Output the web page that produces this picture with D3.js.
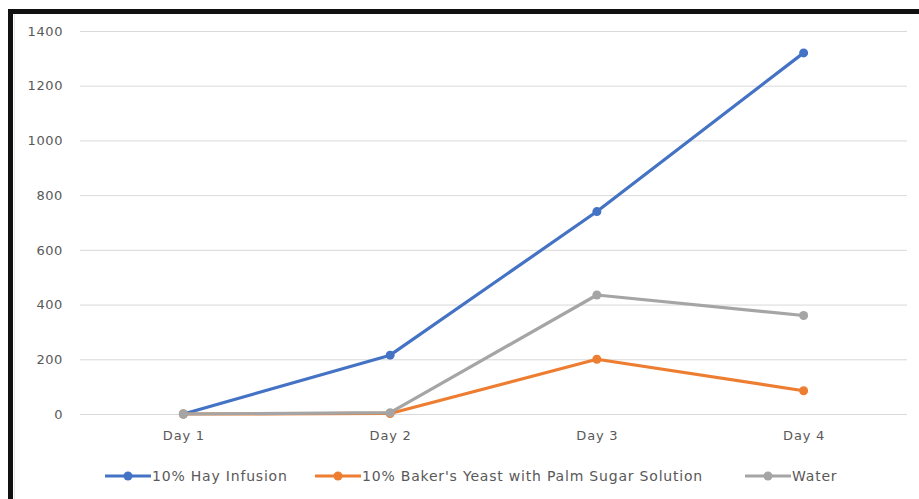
<!DOCTYPE html>
<html>
<head>
<meta charset="utf-8">
<script src="https://cdn.jsdelivr.net/npm/d3@7"></script>
<style>
  html, body { margin: 0; padding: 0; background: #fff; }
  svg { display: block; }
  text { font-family: "DejaVu Sans", sans-serif; fill: #595959; }
</style>
</head>
<body>
<svg id="chart" width="919" height="499"></svg>
<script>
const days = ["Day 1", "Day 2", "Day 3", "Day 4"];
const hayInfusion = [0, 215, 740, 1320];
const bakersYeast = [0, 2, 200, 85];
const water = [0, 5, 435, 360];
const yTicks = [0, 200, 400, 600, 800, 1000, 1200, 1400];

const series = [
  { name: "10% Hay Infusion", values: hayInfusion, color: "#4472C4" },
  { name: "10% Baker's Yeast with Palm Sugar Solution", values: bakersYeast, color: "#ED7D31" },
  { name: "Water", values: water, color: "#A5A5A5" }
];

const svg = d3.select("#chart");
const W = 919, H = 499;

// frame: heavy rule along the left and top edges
svg.append("rect").attr("x", 0).attr("y", 0).attr("width", W).attr("height", H).attr("fill", "#fff");
svg.append("rect").attr("x", 8).attr("y", 9).attr("width", W - 8).attr("height", 5).attr("fill", "#111");
svg.append("rect").attr("x", 8).attr("y", 9).attr("width", 5).attr("height", H - 9).attr("fill", "#111");
svg.append("line").attr("x1", 14.5).attr("x2", 14.5).attr("y1", 14).attr("y2", H)
  .attr("stroke", "#e6e6e6").attr("stroke-width", 1);

const plot = { left: 80, right: 907, top: 31, bottom: 414 };

const x = d3.scalePoint().domain(days).range([plot.left, plot.right]).padding(0.5);
const y = d3.scaleLinear().domain([0, 1400]).range([plot.bottom, plot.top]);

// horizontal gridlines + value labels
const yAxis = d3.axisLeft(y).tickValues(yTicks).tickFormat(d3.format("d"))
  .tickSize(-(plot.right - plot.left)).tickPadding(17);
const gy = svg.append("g").attr("transform", `translate(${plot.left},0)`).call(yAxis);
gy.select(".domain").remove();
gy.selectAll(".tick line").attr("stroke", "#d9d9d9").attr("stroke-width", 1);
gy.selectAll(".tick text").style("font-size", "13px").style("letter-spacing", "0.6px").attr("fill", "#595959");

// category labels
const xAxis = d3.axisBottom(x).tickSize(0).tickPadding(17);
const gx = svg.append("g").attr("transform", `translate(0,${plot.bottom})`).call(xAxis);
gx.select(".domain").remove();
gx.selectAll(".tick text").style("font-size", "13px").style("letter-spacing", "0.8px").attr("fill", "#595959");

const line = d3.line().x((d, i) => x(days[i])).y(d => y(d));

// later series are painted over earlier ones
series.forEach(s => {
  svg.append("path")
    .datum(s.values)
    .attr("fill", "none")
    .attr("stroke", s.color)
    .attr("stroke-width", 3.2)
    .attr("stroke-linejoin", "round")
    .attr("d", line);
  svg.selectAll(null)
    .data(s.values)
    .enter().append("circle")
    .attr("cx", (d, i) => x(days[i]))
    .attr("cy", d => y(d))
    .attr("r", 4.5)
    .attr("fill", s.color);
});

// legend
const legendY = 476;
const legendX = [105, 315, 745];
series.forEach((s, i) => {
  const g = svg.append("g").attr("transform", `translate(${legendX[i]},${legendY})`);
  g.append("line").attr("x1", 0).attr("x2", 46).attr("y1", 0).attr("y2", 0)
    .attr("stroke", s.color).attr("stroke-width", 3.2);
  g.append("circle").attr("cx", 23).attr("cy", 0).attr("r", 4.5).attr("fill", s.color);
  g.append("text").attr("x", 47).attr("y", 0).attr("dy", "0.35em")
    .style("font-size", "14px").style("letter-spacing", "0.8px").text(s.name);
});
</script>
</body>
</html>
